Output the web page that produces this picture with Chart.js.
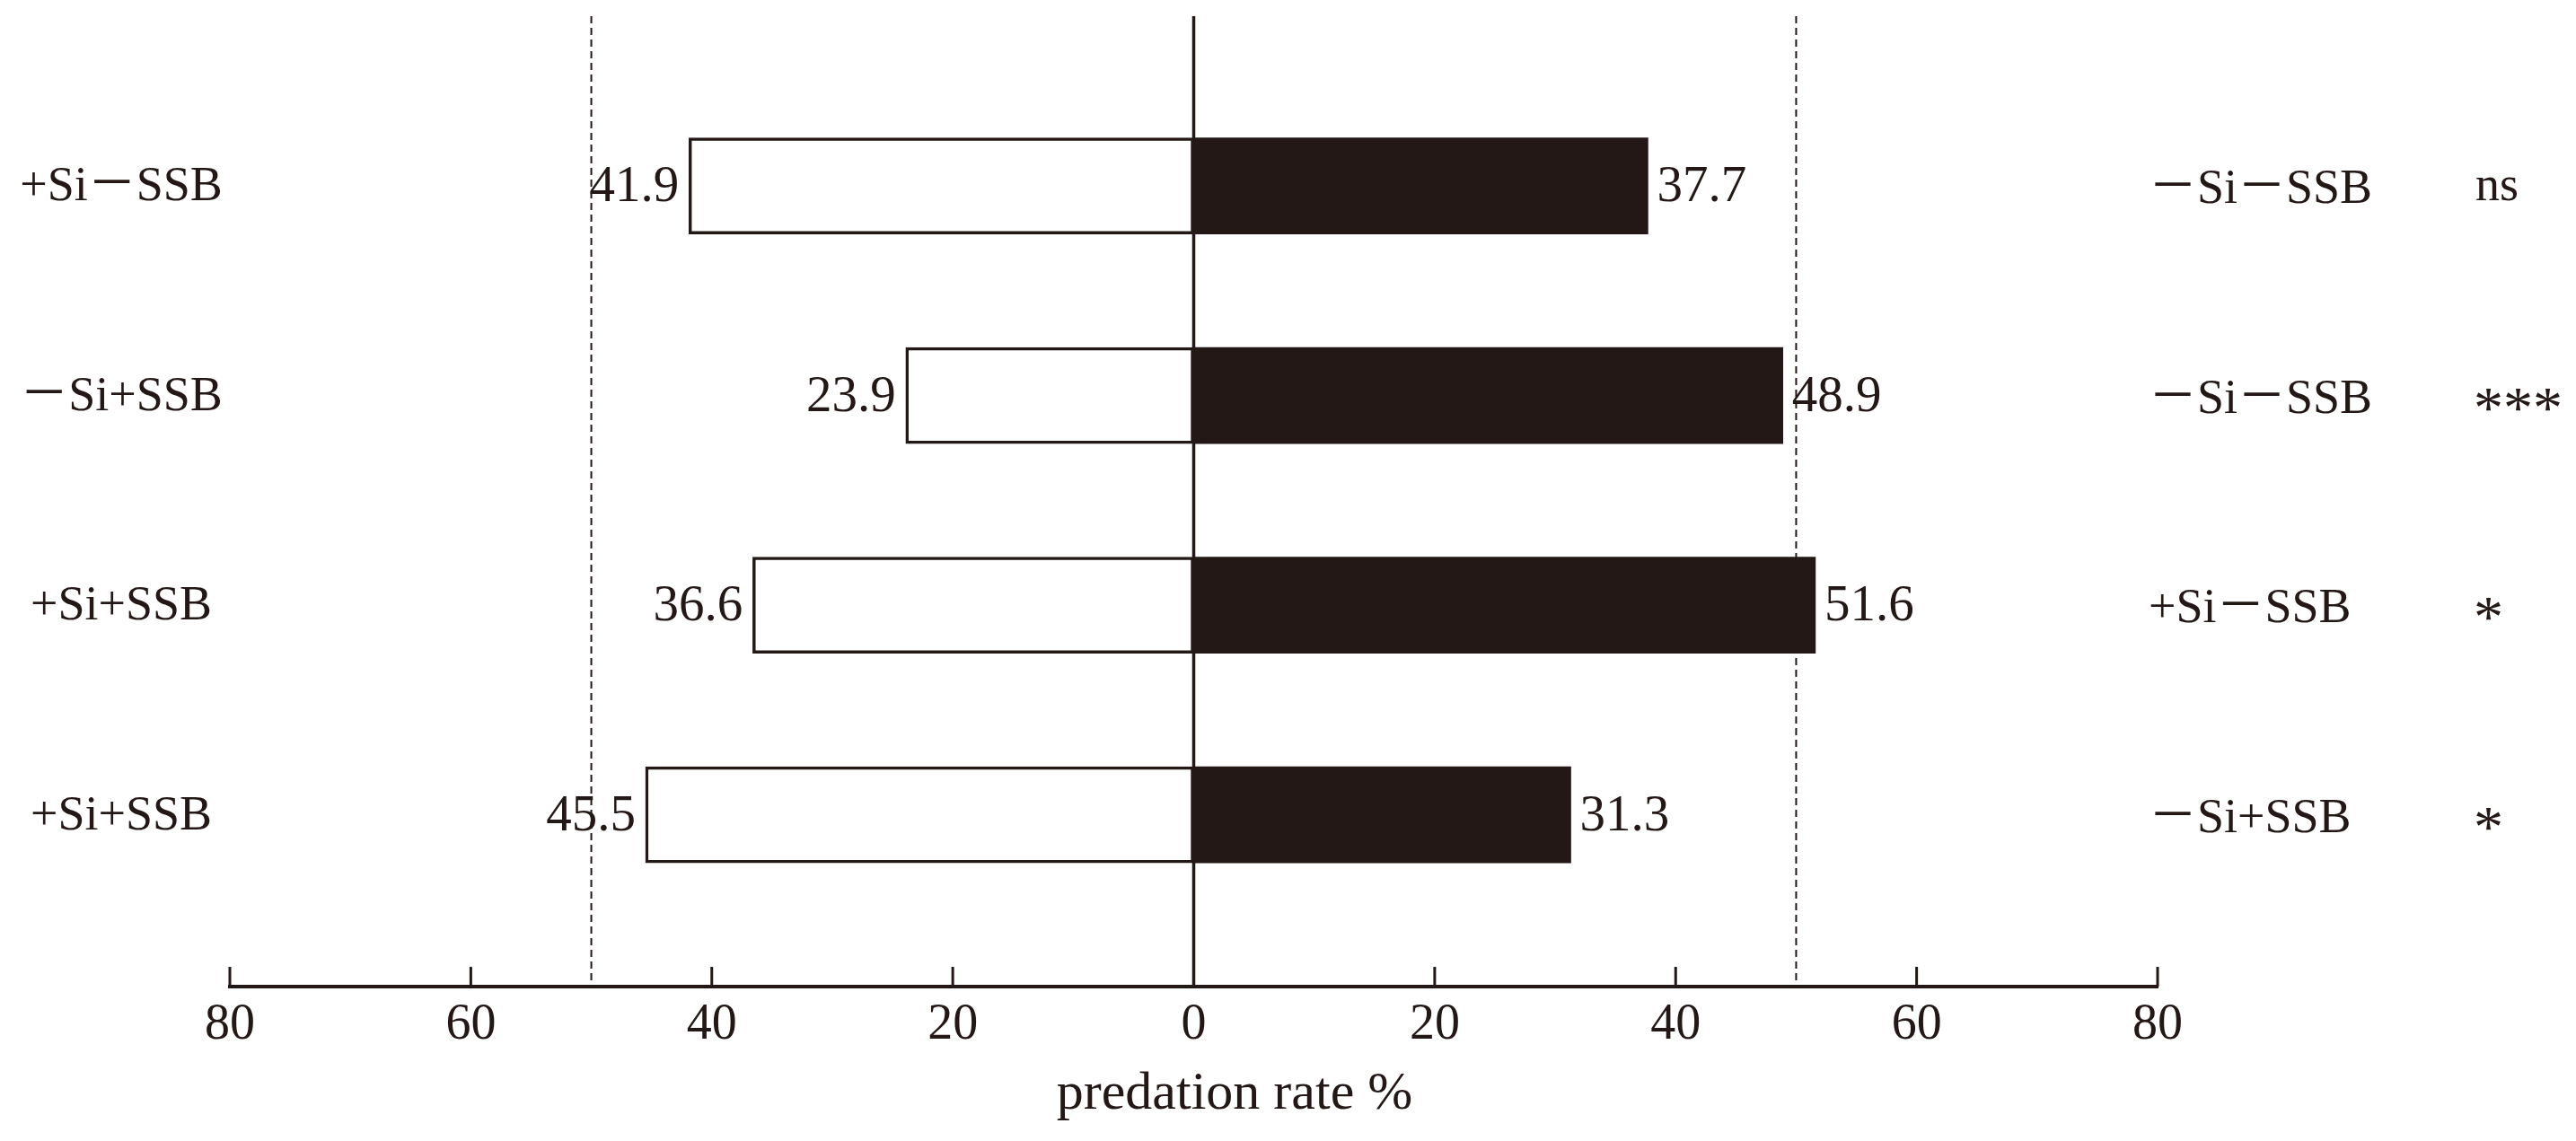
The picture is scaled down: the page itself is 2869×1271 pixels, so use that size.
<!DOCTYPE html>
<html>
<head>
<meta charset="utf-8">
<script src="https://cdn.jsdelivr.net/npm/chart.js@4.4.1/dist/chart.umd.min.js"></script>
<style>
  html, body { margin: 0; padding: 0; background: #fff; }
  canvas { display: block; }
</style>
</head>
<body>
<canvas id="chart" width="2869" height="1271"></canvas>
<script>
// rows top to bottom
let rows = [1, 2, 3, 4];
let leftLabels = ['+Si－SSB', '－Si+SSB', '+Si+SSB', '+Si+SSB'];
let rightLabels = ['－Si－SSB', '－Si－SSB', '+Si－SSB', '－Si+SSB'];
let sigLabels = ['ns', '***', '*', '*'];
let leftValues = [41.9, 23.9, 36.6, 45.5];
let rightValues = [37.7, 48.9, 51.6, 31.3];
let xTicks = [-80, -60, -40, -20, 0, 20, 40, 60, 80];
let refLines = [-50, 50];

let ink = '#231815';
let serif = "'Liberation Serif', 'Noto Sans CJK SC', serif";

let extras = {
    id: 'extras',
    beforeDatasetsDraw(chart) {
        let ctx = chart.ctx;
        let x = chart.scales.x;
        let area = chart.chartArea;
        ctx.save();
        // dashed reference lines
        ctx.strokeStyle = ink;
        ctx.lineWidth = 2;
        ctx.setLineDash([8, 5]);
        refLines.forEach((v) => {
            let px = x.getPixelForValue(v);
            ctx.beginPath();
            ctx.moveTo(px, area.top);
            ctx.lineTo(px, area.bottom);
            ctx.stroke();
        });
        ctx.restore();
    },
    afterDatasetsDraw(chart) {
        let ctx = chart.ctx;
        let x = chart.scales.x;
        let y = chart.scales.y;
        let area = chart.chartArea;
        ctx.save();
        // zero line
        ctx.strokeStyle = ink;
        ctx.lineWidth = 3.5;
        let zx = x.getPixelForValue(0);
        ctx.beginPath();
        ctx.moveTo(zx, area.top);
        ctx.lineTo(zx, area.bottom);
        ctx.stroke();

        // tick marks pointing up
        ctx.lineWidth = 3;
        xTicks.forEach((v) => {
            let px = x.getPixelForValue(v);
            ctx.beginPath();
            ctx.moveTo(px, area.bottom);
            ctx.lineTo(px, area.bottom - 22);
            ctx.stroke();
        });

        // value labels
        ctx.fillStyle = ink;
        ctx.font = '57px ' + serif;
        ctx.textBaseline = 'middle';
        chart.getDatasetMeta(0).data.forEach((bar, i) => {
            ctx.textAlign = 'right';
            ctx.fillText(leftValues[i].toFixed(1), bar.x - 11, bar.y + 2);
        });
        chart.getDatasetMeta(1).data.forEach((bar, i) => {
            ctx.textAlign = 'left';
            ctx.fillText(rightValues[i].toFixed(1), bar.x + 10, bar.y + 2);
        });

        // group labels on both sides and significance
        rows.forEach((r, i) => {
            let py = y.getPixelForValue(r);
            ctx.font = '54px ' + serif;
            ctx.textAlign = 'center';
            ctx.fillText(leftLabels[i], 135, py + 2);
            ctx.textAlign = 'left';
            ctx.fillText(rightLabels[i], 2393, py + 5);
            if (sigLabels[i] == 'ns') {
                ctx.fillText(sigLabels[i], 2757, py + 2);
            } else {
                ctx.font = '66px ' + serif;
                ctx.fillText(sigLabels[i], 2755, py + 18);
            }
        });

        // axis title
        ctx.font = '60px ' + serif;
        ctx.textAlign = 'center';
        ctx.fillText('predation rate %', 1375, 1219);
        ctx.restore();
    }
};

let ctx = document.getElementById('chart').getContext('2d');
new Chart(ctx, {
    type: 'bar',
    data: {
        datasets: [
            {
                label: 'left',
                data: rows.map((r, i) => ({ x: -leftValues[i], y: r })),
                backgroundColor: '#ffffff',
                borderColor: ink,
                borderWidth: 3.5,
                borderSkipped: false,
                barThickness: 107,
                grouped: false
            },
            {
                label: 'right',
                data: rows.map((r, i) => ({ x: rightValues[i], y: r })),
                backgroundColor: ink,
                borderWidth: 0,
                barThickness: 107,
                grouped: false
            }
        ]
    },
    options: {
        indexAxis: 'y',
        responsive: false,
        animation: false,
        devicePixelRatio: 1,
        layout: {
            padding: { left: 256, right: 466, top: 18, bottom: 0 }
        },
        plugins: {
            legend: { display: false },
            tooltip: { enabled: false }
        },
        scales: {
            x: {
                type: 'linear',
                min: -80,
                max: 80,
                afterFit(scale) { scale.height = 172; },
                afterBuildTicks(scale) { scale.ticks = xTicks.map((v) => ({ value: v })); },
                grid: { display: false, drawTicks: false },
                border: { display: true, width: 4, color: ink },
                ticks: {
                    padding: 10,
                    color: ink,
                    font: { family: serif, size: 56 },
                    callback: (v) => Math.abs(v)
                }
            },
            y: {
                type: 'linear',
                display: false,
                offset: false,
                reverse: true,
                min: 0.19,
                max: 4.82
            }
        }
    },
    plugins: [extras]
});
</script>
</body>
</html>
